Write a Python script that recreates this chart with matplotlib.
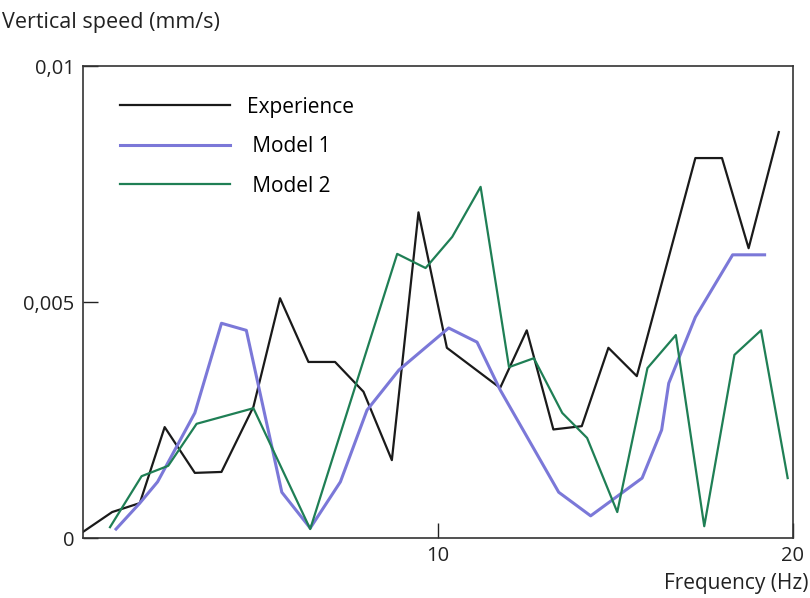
import numpy as np
import matplotlib
matplotlib.use("Agg")
import matplotlib.pyplot as plt

plt.rcParams['font.family'] = ['Open Sans', 'DejaVu Sans']

# frequency (Hz) / vertical speed (mm/s)
exp_f = [0.0, 0.82, 1.6, 2.3, 3.15, 3.9, 4.8, 5.55, 6.35, 7.1, 7.9, 8.7, 9.45,
         10.25, 11.75, 12.5, 13.25, 14.05, 14.8, 15.6, 17.25, 18.0, 18.75, 19.6]
exp_v = [0.13, 0.55, 0.74, 2.35, 1.38, 1.40, 2.78, 5.08, 3.73, 3.73, 3.1, 1.65, 6.9,
         4.03, 3.18, 4.4, 2.3, 2.37, 4.03, 3.43, 8.05, 8.05, 6.14, 8.6]

m1_f = [0.93, 1.6, 2.1, 3.15, 3.9, 4.6, 5.6, 6.4, 7.25, 8.0, 8.9, 10.3, 11.1,
        11.75, 13.4, 14.3, 15.75, 16.3, 16.5, 17.25, 18.3, 19.2]
m1_v = [0.19, 0.74, 1.19, 2.65, 4.55, 4.4, 0.97, 0.21, 1.19, 2.71, 3.56, 4.45, 4.15,
        3.14, 0.97, 0.47, 1.27, 2.29, 3.28, 4.68, 6.0, 6.0]

m2_f = [0.76, 1.65, 2.4, 3.2, 4.8, 6.4, 8.85, 9.65, 10.4, 11.2, 12.0, 12.7, 13.5,
        14.2, 15.05, 15.9, 16.7, 17.5, 18.35, 19.1, 19.85]
m2_v = [0.23, 1.31, 1.53, 2.42, 2.75, 0.19, 6.02, 5.72, 6.38, 7.44, 3.62, 3.81, 2.65,
        2.12, 0.55, 3.6, 4.3, 0.25, 3.88, 4.4, 1.27]

fig = plt.figure(figsize=(8.1, 5.98), dpi=100)
ax = fig.add_axes([0.1025, 0.1003, 0.8765, 0.7893])

ax.plot(exp_f, np.array(exp_v) / 1000, color='#1a1a1a', lw=1.6, label='Experience')
ax.plot(m1_f, np.array(m1_v) / 1000, color='#7b78d8', lw=2.2, label=' Model 1')
ax.plot(m2_f, np.array(m2_v) / 1000, color='#1f7f55', lw=1.6, label=' Model 2')

ax.set_xlim(0, 20)
ax.set_ylim(0, 0.01)
ax.set_xticks([10, 20])
ax.set_xticklabels(['10', '20'])
ax.set_yticks([0, 0.005, 0.01])
ax.set_yticklabels(['0', '0,005', '0,01'])
ax.tick_params(direction='in', length=11, width=1, labelsize=14.5, pad=6,
               colors='#222222')
for s in ax.spines.values():
    s.set_color('#333333')
    s.set_linewidth(1.2)

ax.legend(loc='upper left', bbox_to_anchor=(0.052, 0.935), frameon=False,
          fontsize=15, handlelength=5.3, handletextpad=0.8, labelspacing=0.89,
          borderpad=0, borderaxespad=0)

fig.text(0.002, 0.962, 'Vertical speed (mm/s)', fontsize=15.5, color='#222222',
         ha='left', va='center')
fig.text(0.998, 0.025, 'Frequency (Hz)', fontsize=15, color='#222222',
         ha='right', va='center')

fig.savefig('out.png', dpi=100)
